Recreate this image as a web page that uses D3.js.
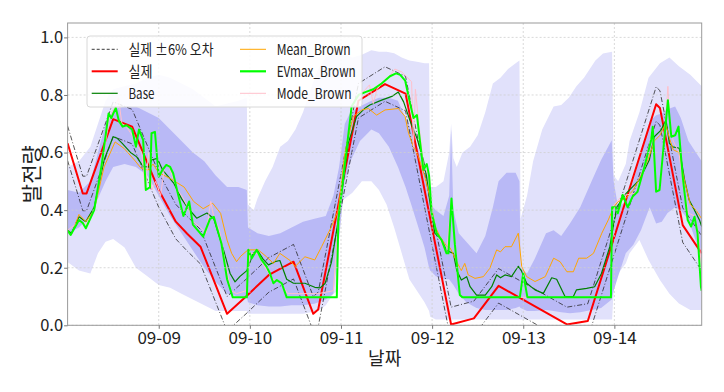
<!DOCTYPE html>
<html><head><meta charset="utf-8">
<script src="https://cdn.jsdelivr.net/npm/d3@7/dist/d3.min.js"></script>
<style>
body{margin:0;background:#fff;}
svg{display:block;font-family:"Noto Sans CJK KR","Noto Sans",sans-serif;}
</style></head>
<body><svg id="chart" width="724" height="392"></svg>
<script>
// ---------------- DATA (hours since 2024-09-08 00:00) ----------------
const startDay = Date.UTC(2024, 8, 8);
const tickLabels = ["09-09", "09-10", "09-11", "09-12", "09-13", "09-14"];
const yTicks = [0.0, 0.2, 0.4, 0.6, 0.8, 1.0];
const lastHour = 167;

const actualHours  = [0, 4, 5, 12, 17, 24, 28.5, 31.5, 35, 42, 47, 53, 59.5, 64.7, 66, 76.6, 83.6, 89, 101, 107, 113.5, 131.5, 137, 155, 156, 162, 167];
const actualValues = [0.632, 0.458, 0.458, 0.716, 0.69, 0.47, 0.36, 0.318, 0.273, 0.04, 0.1, 0.175, 0.221, 0.04, 0.055, 0.78, 0.838, 0.805, 0.003, 0.024, 0.137, 0.003, 0.015, 0.768, 0.755, 0.348, 0.25];
const actualUpper  = [0.692, 0.518, 0.518, 0.776, 0.75, 0.53, 0.42, 0.378, 0.333, 0.1, 0.16, 0.235, 0.281, 0.1, 0.115, 0.84, 0.898, 0.865, 0.063, 0.084, 0.197, 0.063, 0.075, 0.828, 0.815, 0.408, 0.31];
const actualLower  = [0.572, 0.398, 0.398, 0.656, 0.63, 0.41, 0.3, 0.258, 0.213, -0.02, 0.04, 0.115, 0.161, -0.02, -0.005, 0.72, 0.778, 0.745, -0.057, -0.036, 0.077, -0.057, -0.045, 0.708, 0.695, 0.288, 0.19];

const baseHours  = [0, 1, 3, 4.8, 7, 9.6, 12, 13, 14.4, 16.6, 18.2, 19.9, 21.4, 22.1, 23.6, 25, 28, 30, 31.5, 34, 36.7, 38.5, 41.1, 42.8, 44.1, 45.4, 47.2, 48.9, 50, 51.5, 52.9, 54.6, 55.9, 57.7, 59.5, 62.5, 65.1, 66.5, 67.8, 69.5, 71.3, 73.9, 76.1, 78.4, 79.6, 82.7, 85.4, 87.1, 88.5, 90.2, 92, 93.7, 94.5, 95.5, 96.7, 98.5, 99.8, 101.6, 102.5, 103.7, 105.1, 106, 107.7, 110, 111.7, 113, 114, 115.2, 116.9, 118.7, 119.5, 120.9, 123.1, 125.3, 127.5, 128.8, 131, 133.2, 134, 136.7, 138.8, 140.6, 142.8, 144.6, 147.1, 150.6, 153.2, 154.5, 156.3, 157.6, 158.5, 159.4, 161.1, 162.5, 163.7, 165.1, 166.4, 167];
const baseValues = [0.33, 0.32, 0.377, 0.36, 0.41, 0.574, 0.655, 0.65, 0.632, 0.6, 0.585, 0.551, 0.55, 0.574, 0.58, 0.54, 0.493, 0.44, 0.41, 0.372, 0.39, 0.37, 0.26, 0.18, 0.151, 0.17, 0.19, 0.25, 0.26, 0.23, 0.21, 0.221, 0.225, 0.16, 0.146, 0.146, 0.132, 0.13, 0.145, 0.22, 0.366, 0.632, 0.725, 0.755, 0.765, 0.782, 0.795, 0.81, 0.776, 0.71, 0.65, 0.574, 0.52, 0.42, 0.32, 0.296, 0.26, 0.25, 0.19, 0.157, 0.169, 0.134, 0.105, 0.105, 0.134, 0.175, 0.165, 0.175, 0.169, 0.205, 0.19, 0.146, 0.123, 0.111, 0.165, 0.16, 0.1, 0.1, 0.123, 0.128, 0.134, 0.18, 0.273, 0.41, 0.458, 0.505, 0.574, 0.655, 0.678, 0.713, 0.632, 0.62, 0.615, 0.505, 0.435, 0.4, 0.366, 0.343];

const meanHours  = [0, 1, 3, 4.8, 7, 9.6, 12.5, 14.9, 17.6, 19.4, 21.2, 22.5, 24, 27, 30.7, 33.2, 35.7, 38.2, 40.3, 42, 43.2, 44.5, 45.6, 47.5, 50.2, 52.4, 54.2, 55.9, 58.6, 59.9, 62.5, 65.1, 66.9, 69.5, 71.3, 73, 75.2, 77.5, 79.2, 81.4, 83.6, 87.1, 88.9, 89.8, 91.1, 92.4, 94.1, 95.4, 96.8, 98.1, 99.8, 100.7, 102.9, 103.7, 104.6, 105.5, 107.3, 109.5, 111.2, 113, 114, 115.2, 116.9, 118.7, 119.6, 120.9, 123.1, 125.8, 128, 129.7, 131.5, 133.2, 134.6, 136.7, 138.5, 140.7, 142.4, 143.8, 145, 147, 149, 151, 153, 154.5, 156, 157.5, 158.5, 159.5, 161, 162.5, 164, 165.5, 167];
const meanValues = [0.33, 0.315, 0.385, 0.36, 0.4, 0.55, 0.637, 0.614, 0.574, 0.545, 0.539, 0.56, 0.53, 0.51, 0.48, 0.43, 0.405, 0.424, 0.389, 0.296, 0.25, 0.221, 0.24, 0.262, 0.262, 0.238, 0.215, 0.25, 0.225, 0.204, 0.238, 0.227, 0.273, 0.343, 0.4, 0.597, 0.725, 0.748, 0.753, 0.73, 0.748, 0.753, 0.725, 0.667, 0.62, 0.586, 0.516, 0.447, 0.343, 0.308, 0.275, 0.27, 0.21, 0.19, 0.215, 0.175, 0.163, 0.169, 0.198, 0.262, 0.255, 0.273, 0.273, 0.32, 0.204, 0.169, 0.152, 0.169, 0.233, 0.221, 0.186, 0.186, 0.233, 0.233, 0.25, 0.32, 0.366, 0.41, 0.43, 0.44, 0.47, 0.52, 0.58, 0.64, 0.66, 0.7, 0.65, 0.61, 0.6, 0.5, 0.42, 0.4, 0.37];

const evmaxHours  = [0, 0.8, 3, 4, 4.8, 7, 9, 10.8, 11.5, 12.7, 13.5, 14.5, 15.5, 17, 18, 18.8, 19.9, 20.6, 21.7, 22.1, 23, 24, 25, 26, 27, 27.8, 29, 30.5, 32, 33, 35.7, 37.5, 38.5, 39.5, 40.5, 42, 43.5, 47.2, 47.6, 48.5, 49.8, 51.1, 52.4, 53.3, 54.2, 55.1, 56.4, 57.7, 70.9, 71.3, 74.8, 76.6, 78.4, 80.5, 82.7, 84.9, 86.5, 87.6, 88.9, 90.2, 91.1, 92, 92.8, 93.7, 94.6, 95.2, 95.9, 97.2, 98.5, 99.8, 100.3, 101.1, 102, 103.3, 104, 119.1, 120, 121.1, 143.1, 143.4, 144.3, 144.9, 146.2, 147.5, 148.8, 150.1, 151.9, 153.7, 154.1, 155, 155.9, 157.2, 158.1, 159, 160, 160.9, 162, 163.3, 164.2, 165.1, 165.9, 166.8, 167];
const evmaxValues = [0.329, 0.314, 0.366, 0.355, 0.337, 0.4, 0.56, 0.736, 0.72, 0.755, 0.71, 0.69, 0.695, 0.68, 0.62, 0.68, 0.643, 0.47, 0.48, 0.667, 0.672, 0.516, 0.54, 0.557, 0.55, 0.528, 0.46, 0.38, 0.43, 0.35, 0.308, 0.37, 0.377, 0.33, 0.285, 0.16, 0.097, 0.097, 0.262, 0.233, 0.262, 0.227, 0.204, 0.18, 0.146, 0.157, 0.146, 0.097, 0.097, 0.366, 0.76, 0.8, 0.81, 0.82, 0.84, 0.865, 0.875, 0.87, 0.85, 0.77, 0.72, 0.73, 0.64, 0.54, 0.56, 0.52, 0.39, 0.32, 0.296, 0.25, 0.25, 0.44, 0.28, 0.105, 0.097, 0.097, 0.18, 0.097, 0.097, 0.41, 0.41, 0.389, 0.453, 0.41, 0.447, 0.464, 0.55, 0.644, 0.69, 0.464, 0.47, 0.655, 0.782, 0.655, 0.66, 0.69, 0.516, 0.366, 0.343, 0.377, 0.32, 0.134, 0.12];

const modeHours  = [0, 3, 5, 7, 9, 11, 12.5, 13.4, 14.3, 15.5, 17, 18.5, 19.5, 20.5, 21.3, 22.2, 23.2, 24.5, 25.5, 26.5, 27.5, 29, 30.5, 32, 33, 35, 36.5, 37.7, 38.6, 40, 41.5, 43, 44.5, 47, 48, 50, 52, 54, 56, 58, 62, 66, 70, 71.3, 74.8, 77, 78.5, 79.5, 80.5, 81.5, 83.5, 85, 86.2, 88, 90.6, 91.1, 91.6, 92.5, 93.7, 95, 96, 97.2, 99.8, 101.1, 102, 103.3, 104, 143.1, 143.4, 146, 150, 152, 154, 155, 156, 157.2, 158.1, 158.6, 159.5, 161, 162, 163.5, 165, 166, 167];
const modeValues = [0.33, 0.36, 0.35, 0.4, 0.55, 0.72, 0.76, 0.79, 0.7, 0.69, 0.66, 0.62, 0.6, 0.47, 0.6, 0.47, 0.5, 0.45, 0.55, 0.56, 0.52, 0.47, 0.44, 0.4, 0.36, 0.34, 0.32, 0.43, 0.37, 0.33, 0.22, 0.12, 0.11, 0.12, 0.25, 0.25, 0.2, 0.16, 0.15, 0.11, 0.11, 0.11, 0.12, 0.36, 0.76, 0.8, 0.82, 0.835, 0.77, 0.82, 0.85, 0.87, 0.89, 0.88, 0.846, 0.62, 0.82, 0.7, 0.56, 0.52, 0.4, 0.32, 0.25, 0.44, 0.28, 0.105, 0.097, 0.097, 0.41, 0.45, 0.46, 0.55, 0.68, 0.47, 0.47, 0.66, 0.83, 0.7, 0.64, 0.6, 0.5, 0.39, 0.38, 0.33, 0.2];

const outerBandHours = [0, 3, 6, 8, 10, 12, 15, 18, 21, 24, 27, 30, 33, 36, 39, 42, 45, 47.2, 47.5, 49, 50, 52, 54, 56, 58, 60, 62, 64, 66, 68, 70, 71.2, 71.6, 72, 75, 77.5, 80, 82, 84, 86, 88, 90, 92, 94, 95.2, 95.5, 97, 99, 100.5, 101, 101.6, 102.5, 104, 106, 108, 110, 112, 114, 116, 118, 119, 119.3, 121, 122.6, 125, 128, 130, 132, 134, 136, 139, 141, 143.4, 143.8, 145, 147, 148, 150.6, 153, 156, 158.5, 161, 164, 167];
const outerBandLow   = [0.22, 0.19, 0.18, 0.25, 0.29, 0.3, 0.27, 0.2, 0.17, 0.14, 0.13, 0.11, 0.09, 0.07, 0.05, 0.05, 0.05, 0.05, 0.04, 0.04, 0.04, 0.04, 0.04, 0.04, 0.04, 0.04, 0.04, 0.045, 0.05, 0.07, 0.11, 0.12, 0.42, 0.43, 0.46, 0.5, 0.5, 0.47, 0.42, 0.34, 0.25, 0.16, 0.12, 0.08, 0.05, 0.03, 0.02, 0.02, 0.02, 0.02, 0.02, 0.02, 0.02, 0.02, 0.02, 0.02, 0.02, 0.02, 0.02, 0.02, 0.02, 0.02, 0.02, 0.02, 0.02, 0.02, 0.02, 0.02, 0.02, 0.02, 0.02, 0.02, 0.02, 0.12, 0.18, 0.215, 0.25, 0.296, 0.227, 0.157, 0.11, 0.076, 0.053, 0.053];
const outerBandHigh  = [0.55, 0.57, 0.62, 0.7, 0.78, 0.82, 0.83, 0.84, 0.86, 0.87, 0.86, 0.84, 0.82, 0.79, 0.76, 0.77, 0.78, 0.79, 0.42, 0.4, 0.44, 0.5, 0.55, 0.62, 0.64, 0.68, 0.74, 0.82, 0.89, 0.93, 0.95, 0.95, 0.948, 0.945, 0.93, 0.94, 0.955, 0.95, 0.95, 0.945, 0.93, 0.92, 0.915, 0.91, 0.91, 0.48, 0.48, 0.5, 0.6, 0.7, 0.58, 0.55, 0.6, 0.62, 0.66, 0.74, 0.84, 0.86, 0.89, 0.91, 0.92, 0.37, 0.45, 0.57, 0.68, 0.76, 0.765, 0.79, 0.83, 0.86, 0.92, 0.944, 0.95, 0.52, 0.5, 0.56, 0.64, 0.74, 0.86, 0.91, 0.93, 0.9, 0.87, 0.83];

const innerBandHours = [0, 3, 6, 8, 10, 12, 15, 18, 21, 24, 27, 30, 33, 36, 39, 42, 45, 47.2, 47.5, 50, 53, 56, 59, 62, 65, 68, 70, 71.5, 73, 74.5, 77, 80, 82, 84.6, 87, 89, 90.5, 92.4, 94, 95.2, 95.5, 97, 99, 100.5, 101, 101.6, 103, 105, 107.7, 110, 112, 113.5, 115.6, 118, 119, 119.3, 121, 123, 126, 128, 130, 132.3, 135, 138, 140.5, 143.3, 143.8, 145, 147, 149, 151, 153.3, 155, 156.5, 158, 160, 161.5, 163.5, 166, 167];
const innerBandLow   = [0.32, 0.34, 0.38, 0.44, 0.5, 0.55, 0.56, 0.55, 0.52, 0.45, 0.38, 0.32, 0.26, 0.2, 0.15, 0.11, 0.1, 0.1, 0.08, 0.07, 0.065, 0.065, 0.07, 0.07, 0.075, 0.09, 0.11, 0.3, 0.5, 0.57, 0.64, 0.68, 0.667, 0.62, 0.55, 0.48, 0.42, 0.34, 0.27, 0.2, 0.19, 0.17, 0.16, 0.16, 0.15, 0.14, 0.11, 0.08, 0.06, 0.053, 0.053, 0.053, 0.053, 0.06, 0.065, 0.06, 0.05, 0.05, 0.053, 0.05, 0.045, 0.042, 0.045, 0.053, 0.06, 0.09, 0.12, 0.17, 0.25, 0.28, 0.33, 0.41, 0.354, 0.36, 0.39, 0.41, 0.4, 0.366, 0.273, 0.215];
const innerBandHigh  = [0.47, 0.46, 0.5, 0.6, 0.7, 0.75, 0.76, 0.76, 0.74, 0.72, 0.68, 0.64, 0.6, 0.57, 0.52, 0.48, 0.48, 0.47, 0.34, 0.32, 0.31, 0.32, 0.34, 0.36, 0.37, 0.38, 0.45, 0.55, 0.7, 0.74, 0.76, 0.78, 0.79, 0.79, 0.78, 0.72, 0.68, 0.61, 0.55, 0.52, 0.42, 0.4, 0.38, 0.45, 0.68, 0.4, 0.32, 0.29, 0.25, 0.31, 0.41, 0.5, 0.53, 0.53, 0.5, 0.2, 0.18, 0.23, 0.32, 0.33, 0.31, 0.354, 0.41, 0.5, 0.574, 0.643, 0.5, 0.41, 0.43, 0.5, 0.6, 0.71, 0.73, 0.736, 0.75, 0.76, 0.72, 0.64, 0.59, 0.57];

const legendLabels = ["실제 ±6% 오차", "실제", "Base", "Mean_Brown", "EVmax_Brown", "Mode_Brown"];

// ---------------- LAYOUT ----------------
const svg = d3.select("#chart");
const plotLeft = 67.6, plotRight = 701.7, plotTop = 23, plotBottom = 325.3;
const hourDate = h => new Date(startDay + h * 3600e3);
const x = d3.scaleUtc().domain([hourDate(0), hourDate(lastHour)]).range([plotLeft, plotRight]);
const y = d3.scaleLinear().domain([0, 1.05]).range([plotBottom, plotTop]);
const zip = (hs, vs) => hs.map((h, i) => [h, vs[i]]);

svg.append("defs").append("clipPath").attr("id", "plotclip")
  .append("rect").attr("x", plotLeft).attr("y", plotTop).attr("width", plotRight - plotLeft).attr("height", plotBottom - plotTop);

const plot = svg.append("g").attr("clip-path", "url(#plotclip)");

// bands
const band = (hs, lo, hi) => d3.area()
  .x((d, i) => x(hourDate(hs[i])))
  .y0((d, i) => y(lo[i]))
  .y1((d, i) => y(hi[i]))(hs);
plot.append("path").attr("d", band(outerBandHours, outerBandLow, outerBandHigh)).attr("fill", "#e1e1fb");
plot.append("path").attr("d", band(innerBandHours, innerBandLow, innerBandHigh)).attr("fill", "#b9b9f6");

// grid
const tickDates = tickLabels.map(s => { const [m, d] = s.split("-").map(Number); return new Date(Date.UTC(2024, m - 1, d)); });
const grid = svg.append("g");
tickDates.forEach(d => grid.append("line").attr("x1", x(d)).attr("x2", x(d)).attr("y1", plotTop).attr("y2", plotBottom)
  .attr("stroke", "#cfcfcf").attr("stroke-width", 0.8).attr("stroke-dasharray", "2,2"));
yTicks.forEach(v => grid.append("line").attr("x1", plotLeft).attr("x2", plotRight).attr("y1", y(v)).attr("y2", y(v))
  .attr("stroke", "#cfcfcf").attr("stroke-width", 0.8).attr("stroke-dasharray", "2,2"));

// lines
const line = d3.line().x(d => x(hourDate(d[0]))).y(d => y(d[1]));
const series = [
  {pts: zip(actualHours, actualUpper), color: "#222", w: 0.9, dash: "5,2,1,2", op: 0.85},
  {pts: zip(actualHours, actualLower), color: "#222", w: 0.9, dash: "5,2,1,2", op: 0.85},
  {pts: zip(actualHours, actualValues), color: "#ff0000", w: 2},
  {pts: zip(baseHours, baseValues), color: "#008000", w: 1.2},
  {pts: zip(meanHours, meanValues), color: "#ffa500", w: 1},
  {pts: zip(modeHours, modeValues), color: "#ffc0cb", w: 1},
  {pts: zip(evmaxHours, evmaxValues), color: "#00ff00", w: 2}
];
series.forEach(s => plot.append("path").attr("d", line(s.pts)).attr("fill", "none")
  .attr("stroke", s.color).attr("stroke-width", s.w).attr("stroke-linejoin", "round")
  .attr("stroke-dasharray", s.dash || null).attr("opacity", s.op || 1));

// frame
svg.append("rect").attr("x", plotLeft).attr("y", plotTop).attr("width", plotRight - plotLeft).attr("height", plotBottom - plotTop)
  .attr("fill", "none").attr("stroke", "#9a9a9a").attr("stroke-width", 1);

// axes
const xAxis = svg.append("g").attr("transform", `translate(0,${plotBottom})`)
  .call(d3.axisBottom(x).tickValues(tickDates).tickFormat(d3.utcFormat("%m-%d")).tickSize(3.5).tickPadding(3));
const yAxis = svg.append("g").attr("transform", `translate(${plotLeft},0)`)
  .call(d3.axisLeft(y).tickValues(yTicks).tickFormat(d3.format(".1f")).tickSize(3.5).tickPadding(1));
[xAxis, yAxis].forEach(a => {
  a.select(".domain").remove();
  a.selectAll(".tick line").attr("stroke", "#777");
  a.selectAll("text").attr("fill", "#222").style("font-size", "17px")
    .style("font-family", '"Noto Sans CJK KR","Noto Sans",sans-serif');
});
yAxis.selectAll("text").style("font-size", "16.5px");

svg.append("text").attr("x", (plotLeft + plotRight) / 2).attr("y", 365).attr("text-anchor", "middle")
  .style("font-size", "18px").attr("fill", "#222").text("날짜");
svg.append("text").attr("transform", `translate(39,${(plotTop + plotBottom) / 2}) rotate(-90)`).attr("text-anchor", "middle")
  .style("font-size", "21px").attr("fill", "#222").text("발전량");

// legend
const lg = svg.append("g");
lg.append("rect").attr("x", 87).attr("y", 36).attr("width", 275).attr("height", 71).attr("rx", 3)
  .attr("fill", "#fff").attr("fill-opacity", 0.85).attr("stroke", "#d8d8d8");
const legendStyles = [
  {color: "#222", w: 0.9, dash: "3,2", tw: 85}, {color: "#ff0000", w: 2, tw: 24}, {color: "#008000", w: 1.2, tw: 26},
  {color: "#ffa500", w: 1, tw: 74}, {color: "#00ff00", w: 2.2, tw: 79}, {color: "#ffc0cb", w: 1, tw: 75}
];
legendLabels.forEach((lab, i) => {
  const col = Math.floor(i / 3), row = i % 3;
  const hx = col === 0 ? 91.7 : 240, tx = col === 0 ? 128.5 : 276.7;
  const cy = 49.3 + row * 22;
  const st = legendStyles[i];
  lg.append("line").attr("x1", hx).attr("x2", hx + 26).attr("y1", cy).attr("y2", cy)
    .attr("stroke", st.color).attr("stroke-width", st.w).attr("stroke-dasharray", st.dash || null);
  lg.append("text").attr("x", tx).attr("y", cy).attr("dy", "0.35em").style("font-size", "15px")
    .attr("textLength", st.tw).attr("lengthAdjust", "spacingAndGlyphs")
    .attr("fill", "#222").text(lab);
});
</script>
</body></html>
